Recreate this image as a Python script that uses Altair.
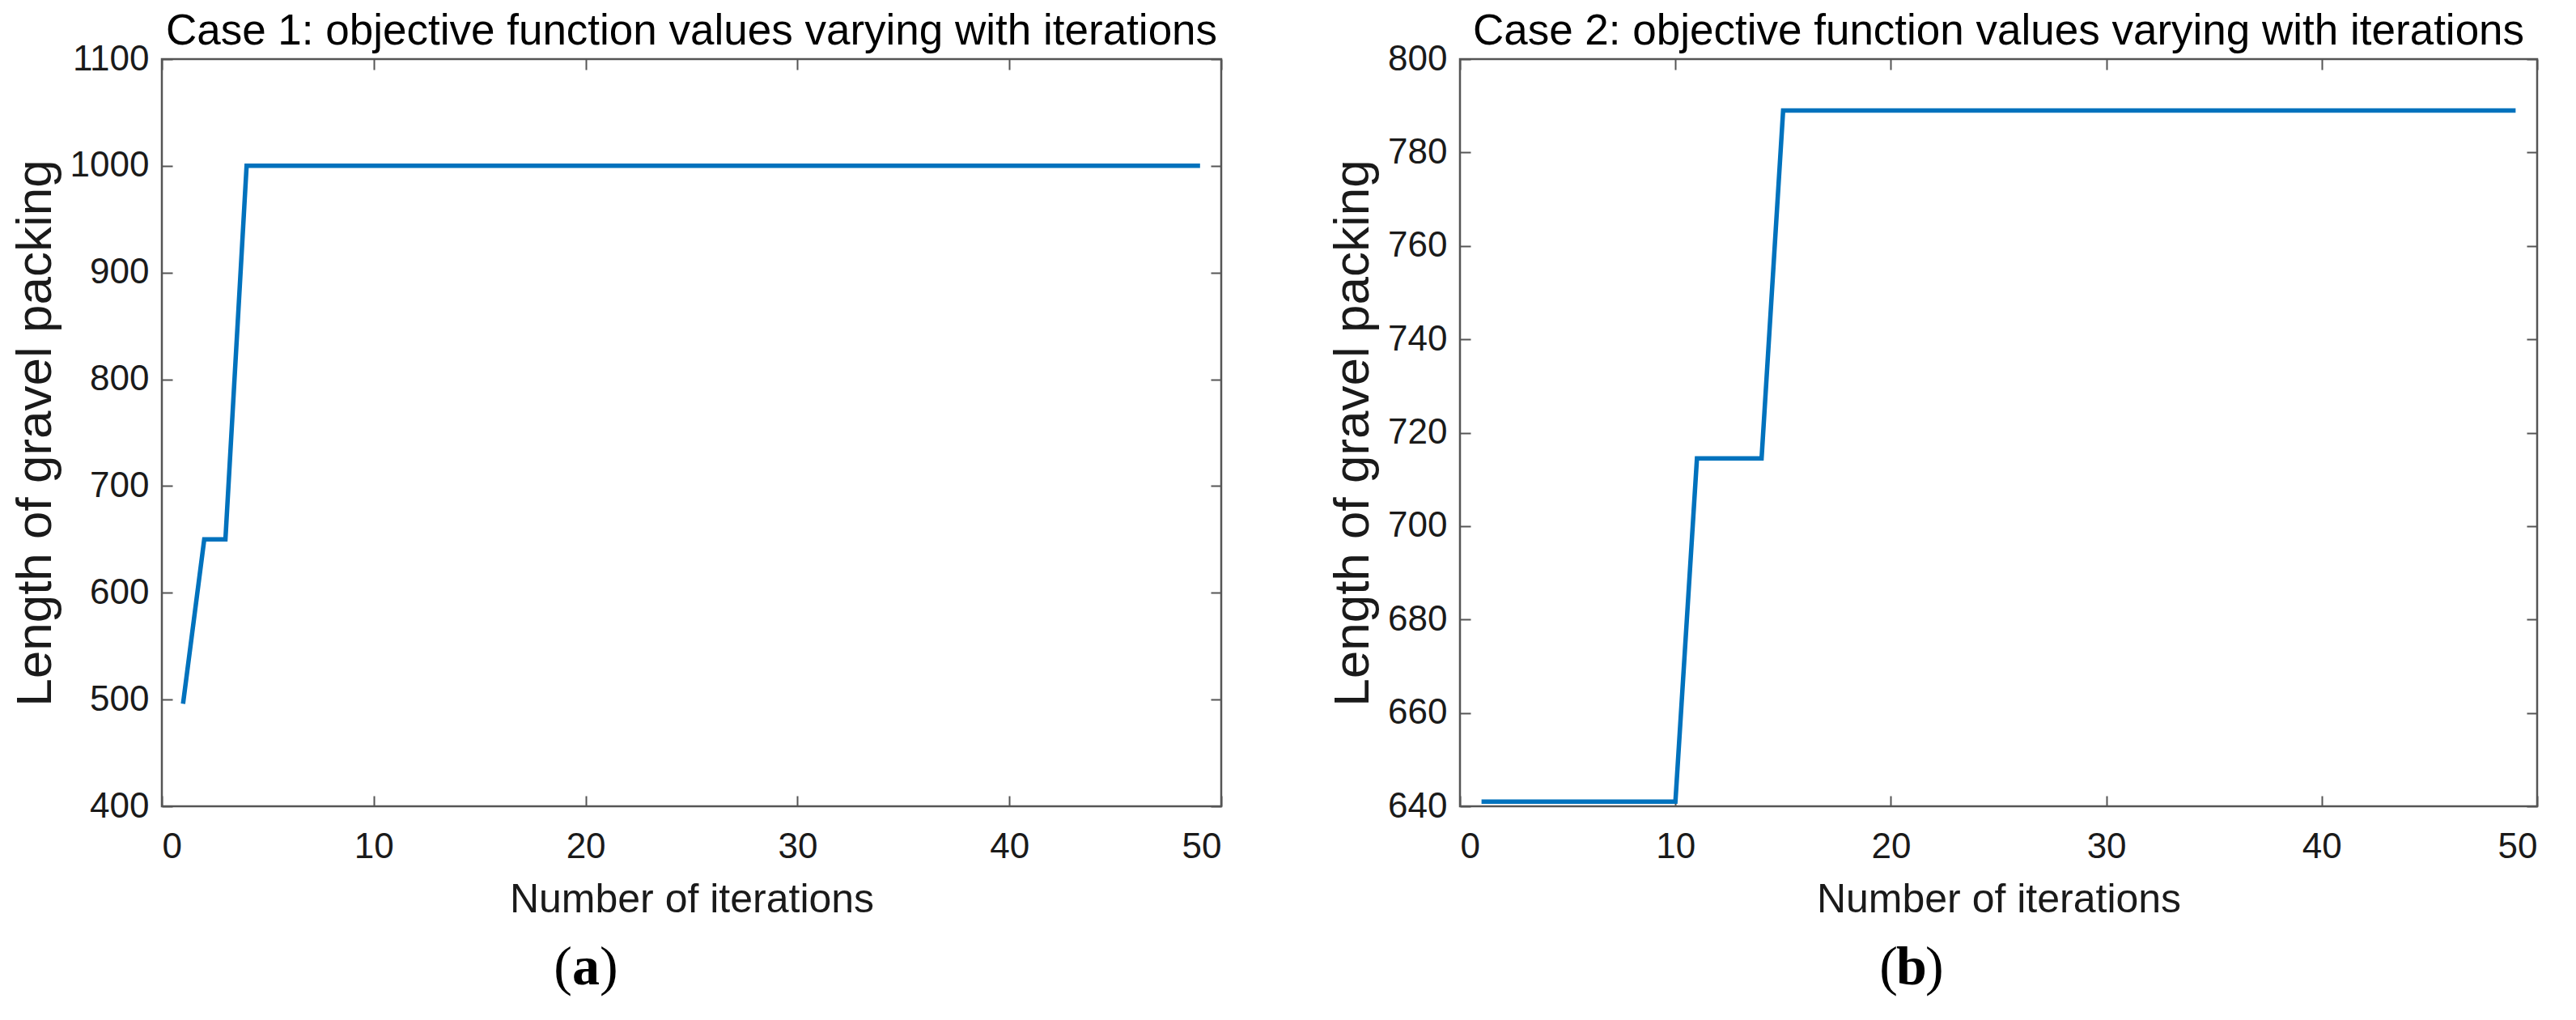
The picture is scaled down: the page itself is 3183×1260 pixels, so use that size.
import altair as alt
import pandas as pd

# ---------------- data ----------------
iterations = [1, 2, 3, 4, 5, 6, 7, 8, 9, 10, 11, 12, 13, 14, 15, 16, 17, 18, 19, 20,
              21, 22, 23, 24, 25, 26, 27, 28, 29, 30, 31, 32, 33, 34, 35, 36, 37, 38, 39, 40,
              41, 42, 43, 44, 45, 46, 47, 48, 49]

case1_values = [496, 650, 650, 1000, 1000, 1000, 1000, 1000, 1000, 1000,
                1000, 1000, 1000, 1000, 1000, 1000, 1000, 1000, 1000, 1000,
                1000, 1000, 1000, 1000, 1000, 1000, 1000, 1000, 1000, 1000,
                1000, 1000, 1000, 1000, 1000, 1000, 1000, 1000, 1000, 1000,
                1000, 1000, 1000, 1000, 1000, 1000, 1000, 1000, 1000]

case2_values = [641, 641, 641, 641, 641, 641, 641, 641, 641, 641,
                714.5, 714.5, 714.5, 714.5, 789, 789, 789, 789, 789, 789,
                789, 789, 789, 789, 789, 789, 789, 789, 789, 789,
                789, 789, 789, 789, 789, 789, 789, 789, 789, 789,
                789, 789, 789, 789, 789, 789, 789, 789, 789]

x_ticks = [0, 10, 20, 30, 40, 50]
case1_y_ticks = [400, 500, 600, 700, 800, 900, 1000, 1100]
case2_y_ticks = [640, 660, 680, 700, 720, 740, 760, 780, 800]

titles = ["Case 1: objective function values varying with iterations",
          "Case 2: objective function values varying with iterations"]
x_title = "Number of iterations"
y_title = "Length of gravel packing"
letters = ["a", "b"]

# ---------------- style ----------------
LINE_COLOR = "#0072BD"
AXIS_COLOR = "#555555"
TEXT_COLOR = "#1a1a1a"
FONT = "Liberation Sans"
TICK_FS = 44
TITLE_FS = 53
XTITLE_FS = 50
YTITLE_FS = 62
TICK_LEN = 13


def panel(values, y_ticks, title, letter, width, height, letter_x):
    df = pd.DataFrame({"iter": iterations, "val": values})
    base = alt.Chart(df)
    xscale = alt.Scale(domain=[x_ticks[0], x_ticks[-1]], nice=False, zero=False)
    yscale = alt.Scale(domain=[y_ticks[0], y_ticks[-1]], nice=False, zero=False)

    main = base.mark_line(color=LINE_COLOR, strokeWidth=5.5, clip=True).encode(
        x=alt.X("iter:Q", scale=xscale,
                axis=alt.Axis(values=x_ticks, title=x_title, orient="bottom", format="d",
                              domain=False, grid=False, ticks=False,
                              labelPadding=28, titlePadding=18,
                              labelFontSize=TICK_FS, titleFontSize=XTITLE_FS,
                              labelFont=FONT, titleFont=FONT,
                              labelColor=TEXT_COLOR, titleColor=TEXT_COLOR,
                              titleFontWeight="normal")),
        y=alt.Y("val:Q", scale=yscale,
                axis=alt.Axis(values=y_ticks, title=y_title, orient="left", format="d",
                              domain=False, grid=False, ticks=False,
                              labelPadding=16, titlePadding=11,
                              labelFontSize=TICK_FS, titleFontSize=YTITLE_FS,
                              labelFont=FONT, titleFont=FONT,
                              labelColor=TEXT_COLOR, titleColor=TEXT_COLOR,
                              titleFontWeight="normal")),
    )

    def tick_layer(xo, yo):
        return base.mark_line(opacity=0).encode(
            x=alt.X("iter:Q", scale=xscale,
                    axis=alt.Axis(values=x_ticks, title=None, orient=xo, labels=False,
                                  domain=False, grid=False, tickSize=TICK_LEN,
                                  offset=-TICK_LEN, tickColor=AXIS_COLOR, tickWidth=2,
                                  minExtent=0, maxExtent=0)),
            y=alt.Y("val:Q", scale=yscale,
                    axis=alt.Axis(values=y_ticks, title=None, orient=yo, labels=False,
                                  domain=False, grid=False, tickSize=TICK_LEN,
                                  offset=-TICK_LEN, tickColor=AXIS_COLOR, tickWidth=2,
                                  minExtent=0, maxExtent=0)),
        )

    cap = pd.DataFrame({"t": [letter]})
    cap_y = height + 200
    lp = alt.Chart(pd.DataFrame({"t": ["("]})).mark_text(
        font="Liberation Serif", fontSize=68, align="right", baseline="middle", color="black"
    ).encode(x=alt.value(letter_x - 17), y=alt.value(cap_y), text="t:N")
    lt = alt.Chart(cap).mark_text(
        font="Liberation Serif", fontSize=68, fontWeight="bold", align="center",
        baseline="middle", color="black"
    ).encode(x=alt.value(letter_x), y=alt.value(cap_y), text="t:N")
    rp = alt.Chart(pd.DataFrame({"t": [")"]})).mark_text(
        font="Liberation Serif", fontSize=68, align="left", baseline="middle", color="black"
    ).encode(x=alt.value(letter_x + 17), y=alt.value(cap_y), text="t:N")

    return alt.layer(main, tick_layer("bottom", "left"), tick_layer("top", "right"),
                     lp, lt, rp).resolve_axis(x="independent", y="independent").properties(
        width=width, height=height,
        title=alt.TitleParams(title, fontSize=TITLE_FS, font=FONT, fontWeight="normal",
                              color="black", anchor="middle", offset=-15, frame="group"),
    )


left = panel(case1_values, case1_y_ticks, titles[0], letters[0], 1309, 923, 524)
right = panel(case2_values, case2_y_ticks, titles[1], letters[1], 1331, 923, 558)

chart = alt.hconcat(left, right, spacing=127).properties(
    padding={"left": 2, "top": 3, "right": 0, "bottom": 0}, background="white"
).configure_view(stroke=AXIS_COLOR, strokeWidth=2.5)

chart.save("out.html", embed_options={"renderer": "svg", "actions": False})
